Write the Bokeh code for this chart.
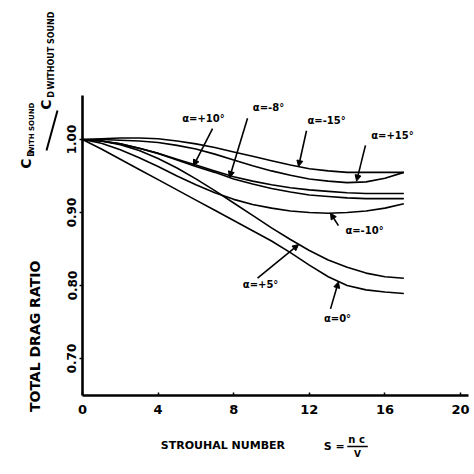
import math
from bokeh.plotting import figure
from bokeh.layouts import row, column
from bokeh.models import Range1d, FixedTicker, NumeralTickFormatter, Label, Arrow, NormalHead
from bokeh.embed import file_html
from bokeh.resources import INLINE

# ---- data ----
strouhal = [0, 1, 2, 3, 4, 5, 6, 7, 8, 9, 10, 11, 12, 13, 14, 15, 16, 17]

alpha_m15 = [1.000, 1.001, 1.002, 1.002, 1.001, 0.998, 0.994, 0.989, 0.983, 0.977,
             0.971, 0.965, 0.960, 0.957, 0.955, 0.955, 0.955, 0.955]
alpha_p15 = [1.000, 1.000, 0.999, 0.998, 0.996, 0.992, 0.987, 0.980, 0.972, 0.964,
             0.957, 0.951, 0.946, 0.943, 0.941, 0.942, 0.947, 0.955]
alpha_p10 = [1.000, 0.998, 0.994, 0.988, 0.981, 0.973, 0.965, 0.957, 0.949, 0.943,
             0.938, 0.934, 0.931, 0.929, 0.927, 0.926, 0.926, 0.926]
alpha_m8 = [1.000, 0.998, 0.994, 0.988, 0.981, 0.972, 0.963, 0.955, 0.946, 0.939,
            0.933, 0.928, 0.924, 0.922, 0.920, 0.919, 0.919, 0.919]
alpha_m10 = [1.000, 0.995, 0.986, 0.975, 0.963, 0.950, 0.938, 0.927, 0.918, 0.911,
             0.906, 0.902, 0.900, 0.899, 0.900, 0.902, 0.906, 0.912]
alpha_p5 = [1.000, 0.998, 0.993, 0.985, 0.974, 0.961, 0.946, 0.930, 0.913, 0.896,
            0.879, 0.863, 0.848, 0.835, 0.825, 0.817, 0.812, 0.810]
alpha_0 = [1.000, 0.987, 0.973, 0.959, 0.945, 0.931, 0.917, 0.903, 0.889, 0.875,
           0.861, 0.845, 0.828, 0.812, 0.800, 0.794, 0.791, 0.789]

series = [alpha_m15, alpha_p15, alpha_p10, alpha_m8, alpha_m10, alpha_p5, alpha_0]

x_ticks = [0, 4, 8, 12, 16, 20]
y_ticks = [0.70, 0.80, 0.90, 1.00]

# curve labels: text, label position, arrow tail, arrow head (data units)
curve_labels = ["α=+10°", "α=-8°", "α=-15°", "α=+15°", "α=-10°", "α=+5°", "α=0°"]
label_xy = [(6.40, 1.029), (9.84, 1.044), (12.91, 1.026), (16.40, 1.005),
            (14.92, 0.875), (9.42, 0.801), (13.49, 0.755)]
arrow_tail = [(6.88, 1.015), (8.73, 1.029), (11.85, 1.012), (14.97, 0.992),
              (13.54, 0.882), (9.26, 0.810), (13.12, 0.768)]
arrow_head = [(5.87, 0.964), (7.78, 0.948), (11.43, 0.963), (14.50, 0.943),
              (13.12, 0.899), (11.43, 0.856), (13.54, 0.805)]

# y title pieces (page px: x, y), rotated
title_parts = [
    ("TOTAL  DRAG  RATIO", 34, 331, "14px"),
    ("C", 25, 163, "14px"),
    ("D", 31, 153, "8px"),
    ("WITH SOUND", 31, 128, "7px"),
    ("C", 45, 104, "14px"),
    ("D", 51, 94, "8px"),
    ("WITHOUT SOUND", 51, 50, "8px"),
]
slash = (46, 150, 57, 110)
# x title pieces (page px)
bottom_parts = [
    ("STROUHAL  NUMBER", 144, 445, "11px", "left"),
    ("S =", 330, 446, "11px", "center"),
    ("n c", 354, 439, "10px", "center"),
    ("V", 355, 453, "9px", "center"),
]
frac_bar = (344, 446, 366, 446)

FONT = "DejaVu Sans"
LEFT_W = 60
MAIN_H = 430
TOTAL = 474


def lab(fig, x, y, text, size, angle=0.0, align="center"):
    fig.add_layout(Label(x=x, y=y, text=text, angle=angle,
                         text_font=FONT, text_font_style="bold",
                         text_font_size=size, text_color="black",
                         text_align=align, text_baseline="middle"))


def blank(width, height, xr, yr):
    f = figure(width=width, height=height, x_range=xr, y_range=yr,
               output_backend="svg", toolbar_location=None,
               x_axis_location=None, y_axis_location=None,
               min_border=0)
    f.outline_line_color = None
    f.xgrid.visible = False
    f.ygrid.visible = False
    return f


# ---- main plot ----
p = figure(width=TOTAL - LEFT_W, height=MAIN_H,
           x_range=Range1d(0, 20.42), y_range=Range1d(0.6493, 1.0603),
           output_backend="svg", toolbar_location=None,
           min_border_left=82 - LEFT_W, min_border_right=6,
           min_border_top=95, min_border_bottom=MAIN_H - 395)
p.outline_line_color = None
p.xgrid.visible = False
p.ygrid.visible = False

for ys in series:
    p.line(strouhal, ys, line_color="black", line_width=1.6)

for ax in (p.xaxis[0], p.yaxis[0]):
    ax.axis_line_width = 2.6
    ax.axis_line_color = "black"
    ax.major_tick_line_width = 1.5
    ax.minor_tick_line_color = None
    ax.major_label_text_font = FONT
    ax.major_label_text_font_style = "bold"
    ax.major_label_text_color = "black"

p.xaxis.ticker = FixedTicker(ticks=x_ticks)
p.xaxis.major_tick_in = 3
p.xaxis.major_tick_out = 0
p.xaxis.major_label_standoff = 9
p.xaxis.major_label_text_font_size = "13px"

p.yaxis.ticker = FixedTicker(ticks=y_ticks)
p.yaxis.formatter = NumeralTickFormatter(format="0.00")
p.yaxis.major_tick_in = 0
p.yaxis.major_tick_out = 3
p.yaxis.major_label_standoff = 3
p.yaxis.major_label_orientation = "vertical"
p.yaxis.major_label_text_font_size = "12px"

for t, (lx, ly), (tx, ty), (hx, hy) in zip(curve_labels, label_xy, arrow_tail, arrow_head):
    lab(p, lx, ly, t, "10px")
    p.add_layout(Arrow(x_start=tx, y_start=ty, x_end=hx, y_end=hy,
                       line_width=1.6, line_color="black",
                       end=NormalHead(size=6, fill_color="black", line_color="black")))

# ---- left strip with the y-axis title (page pixel coordinates) ----
left = blank(LEFT_W, TOTAL, Range1d(0, LEFT_W), Range1d(TOTAL, 0))
for t, x, y, size in title_parts:
    lab(left, x, y, t, size, math.pi / 2)
left.add_layout(Arrow(x_start=slash[0], y_start=slash[1], x_end=slash[2], y_end=slash[3],
                      line_width=2, line_color="black", end=None))

# ---- bottom strip with the x-axis title (page pixel coordinates) ----
bottom = blank(TOTAL - LEFT_W, TOTAL - MAIN_H, Range1d(LEFT_W, TOTAL), Range1d(TOTAL, MAIN_H))
for t, x, y, size, align in bottom_parts:
    lab(bottom, x, y, t, size, 0.0, align)
bottom.add_layout(Arrow(x_start=frac_bar[0], y_start=frac_bar[1], x_end=frac_bar[2], y_end=frac_bar[3],
                        line_width=1.5, line_color="black", end=None))

layout = row(left, column(p, bottom, spacing=0), spacing=0)

open("out.html", "w").write(file_html(layout, INLINE))
